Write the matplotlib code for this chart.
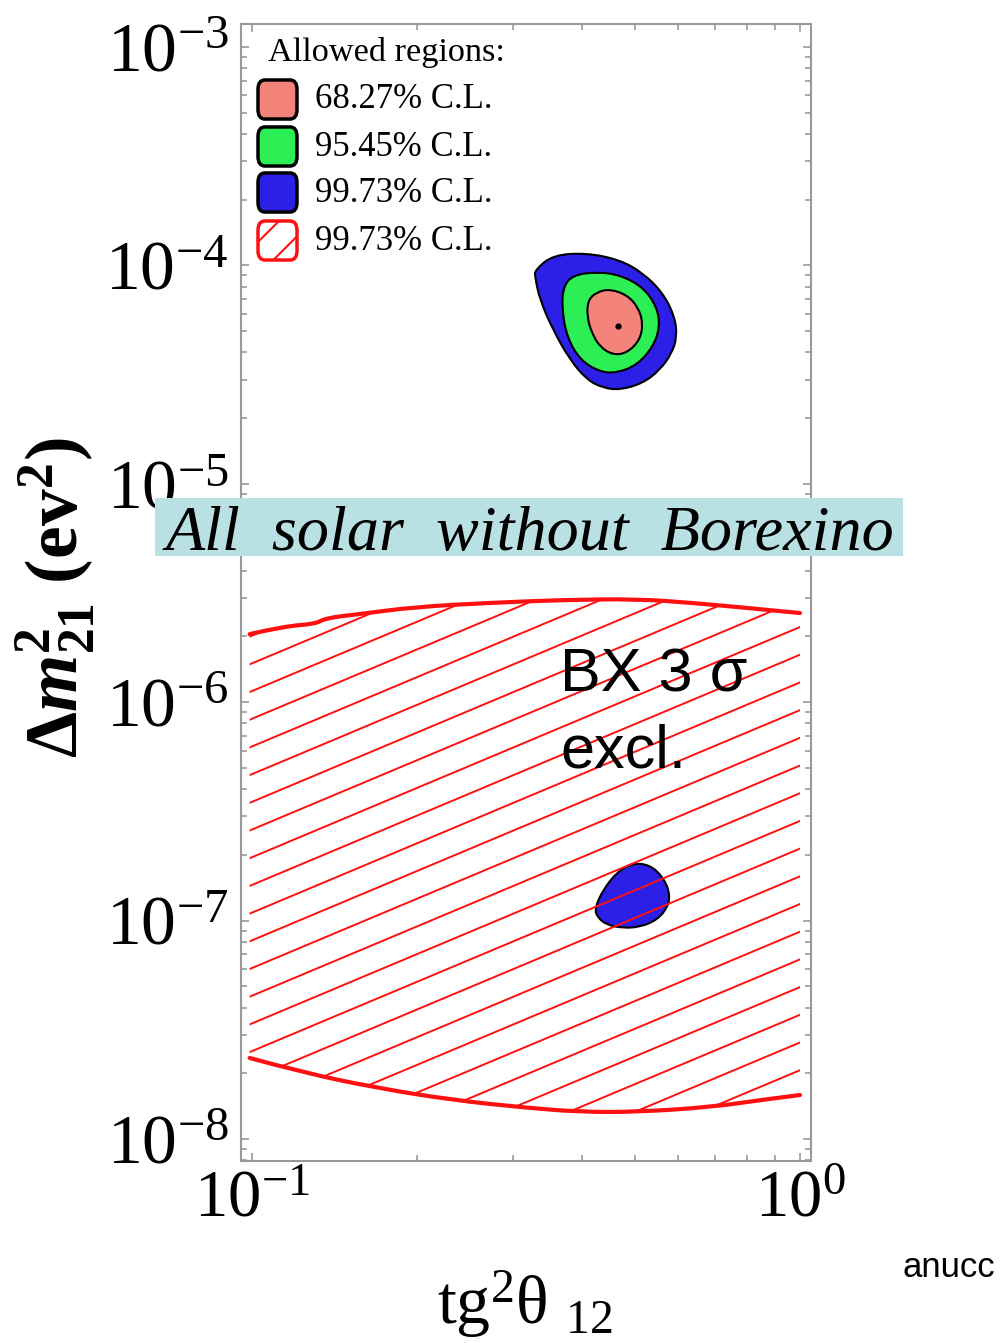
import numpy as np
import matplotlib
matplotlib.use("Agg")
import matplotlib.pyplot as plt
from matplotlib.patches import FancyBboxPatch, Rectangle, PathPatch
from matplotlib.path import Path
from matplotlib.ticker import LogLocator, NullFormatter

plt.rcParams['font.family'] = ['Liberation Serif', 'DejaVu Serif']
plt.rcParams['mathtext.fontset'] = 'custom'
plt.rcParams['mathtext.rm'] = 'Liberation Serif'
plt.rcParams['mathtext.it'] = 'Liberation Serif:italic'
plt.rcParams['mathtext.bf'] = 'Liberation Serif:bold'
plt.rcParams['mathtext.bfit'] = 'Liberation Serif:italic:bold'
plt.rcParams['hatch.color'] = 'red'
plt.rcParams['hatch.linewidth'] = 1.5

# ---------------- data ----------------
# LMA region, 99.73% C.L. (blue)
lma3_x = [0.3284, 0.3543, 0.4088, 0.4694, 0.5170, 0.5623, 0.5913, 0.5962, 0.5839,
          0.5551, 0.5170, 0.4694, 0.4370, 0.4088, 0.3805, 0.3543, 0.3353, 0.3284]
lma3_y = [9.53e-5, 1.116e-4, 1.140e-4, 1.059e-4, 9.23e-5, 7.48e-5, 5.80e-5, 4.70e-5, 3.97e-5,
          3.32e-5, 2.89e-5, 2.69e-5, 2.75e-5, 2.99e-5, 3.69e-5, 5.06e-5, 6.94e-5, 8.85e-5]
# 95.45% C.L. (green)
lma2_x = [0.3694, 0.3854, 0.4263, 0.4694, 0.5170, 0.5483, 0.5551, 0.5392, 0.5043,
          0.4636, 0.4315, 0.3967, 0.3757, 0.3679]
lma2_y = [7.96e-5, 9.04e-5, 9.33e-5, 9.04e-5, 7.96e-5, 6.45e-5, 5.22e-5, 4.23e-5, 3.50e-5,
          3.22e-5, 3.25e-5, 3.69e-5, 4.70e-5, 6.25e-5]
# 68.27% C.L. (pink)
lma1_x = [0.4101, 0.4263, 0.4501, 0.4833, 0.5064, 0.5170, 0.5105, 0.4833, 0.4559,
          0.4315, 0.4171, 0.4088]
lma1_y = [6.94e-5, 7.56e-5, 7.79e-5, 7.32e-5, 6.45e-5, 5.45e-5, 4.55e-5, 3.97e-5, 3.89e-5,
          4.23e-5, 4.90e-5, 5.80e-5]
# best fit point
best_x = [0.4655]
best_y = [5.28e-5]
# LOW region, 99.73% C.L. (blue)
low_x = [0.4224, 0.4370, 0.4636, 0.4958, 0.5324, 0.5623, 0.5790, 0.5741, 0.5483,
         0.5105, 0.4753, 0.4444, 0.4263]
low_y = [1.142e-7, 1.381e-7, 1.669e-7, 1.835e-7, 1.797e-7, 1.584e-7, 1.337e-7, 1.154e-7, 1.006e-7,
         9.35e-8, 9.25e-8, 9.55e-8, 1.038e-7]
# Borexino 3 sigma exclusion region (hatched)
bx_top_x = [0.099, 0.1149, 0.1303, 0.1365, 0.1568, 0.1983, 0.2707, 0.3694, 0.5043, 0.6353, 0.8038, 1.0]
bx_top_y = [2.05e-6, 2.23e-6, 2.28e-6, 2.43e-6, 2.53e-6, 2.73e-6, 2.85e-6, 2.94e-6, 2.97e-6,
            2.85e-6, 2.70e-6, 2.56e-6]
bx_bot_x = [0.099, 0.1244, 0.1698, 0.2317, 0.3162, 0.3985, 0.5043, 0.6881, 0.8670, 1.0]
bx_bot_y = [2.35e-8, 2.01e-8, 1.71e-8, 1.51e-8, 1.39e-8, 1.33e-8, 1.33e-8, 1.40e-8, 1.52e-8, 1.59e-8]

legend_labels = ["68.27% C.L.", "95.45% C.L.", "99.73% C.L.", "99.73% C.L."]
legend_title = "Allowed regions:"
banner_text = "All  solar  without  Borexino"
xticks = [0.1, 1.0]
xticklabels = [r"$10^{-1}$", r"$10^{0}$"]
yticks = [1e-8, 1e-7, 1e-6, 1e-5, 1e-4, 1e-3]
yticklabels = [r"$10^{-8}$", r"$10^{-7}$", r"$10^{-6}$", r"$10^{-5}$", r"$10^{-4}$", r"$10^{-3}$"]

C_PINK = '#f4837c'
C_GREEN = '#2bef55'
C_BLUE = '#2b1fe8'
C_RED = '#ff1010'


def closed_smooth_path(xs, ys):
    """Quadratic B-spline style closed path drawn by matplotlib through the given vertices."""
    p = np.column_stack([xs, ys]).astype(float)
    n = len(p)
    lp = np.log10(p)
    mids = 10 ** ((lp + np.roll(lp, -1, axis=0)) / 2)
    verts = [mids[-1]]
    codes = [Path.MOVETO]
    for i in range(n):
        verts += [p[i], mids[i]]
        codes += [Path.CURVE3, Path.CURVE3]
    verts.append(mids[-1])
    codes.append(Path.CLOSEPOLY)
    return Path(verts, codes)


def open_smooth_verts(xs, ys):
    p = np.column_stack([xs, ys]).astype(float)
    lp = np.log10(p)
    n = len(p)
    verts = [p[0]]
    codes = [Path.MOVETO]
    for i in range(1, n - 1):
        mid = 10 ** ((lp[i] + lp[i + 1]) / 2)
        if i == n - 2:
            verts += [p[i], p[i + 1]]
        else:
            verts += [p[i], mid]
        codes += [Path.CURVE3, Path.CURVE3]
    return verts, codes


# ---------------- figure ----------------
W, H = 1000, 1343
fig = plt.figure(figsize=(W / 100, H / 100), dpi=100)


def fx(px):
    return px / W


def fy(py):
    return 1 - py / H


ax = fig.add_axes([fx(241), fy(1161), fx(811) - fx(241), fy(24) - fy(1161)])
ax.set_xscale('log')
ax.set_yscale('log')
ax.set_xlim(10 ** -1.0201, 10 ** 0.0201)
ax.set_ylim(10 ** -8.1007, 10 ** -2.8947)

# hatched exclusion region
tv, tc = open_smooth_verts(bx_top_x, bx_top_y)
bv, bc = open_smooth_verts(bx_bot_x[::-1], bx_bot_y[::-1])
region_verts = tv + [bv[0]] + bv[1:] + [tv[0]]
region_codes = tc + [Path.LINETO] + bc[1:] + [Path.CLOSEPOLY]
clip_patch = PathPatch(Path(region_verts, region_codes), facecolor='none', edgecolor='none')
ax.add_patch(clip_patch)

# LOW region under the hatch lines
ax.add_patch(PathPatch(closed_smooth_path(low_x, low_y), facecolor=C_BLUE, edgecolor='black',
                       lw=1.5, zorder=2))

# hatch lines (style), slope/spacing in axes fraction
slope = 0.2106
spacing = 0.02436
x0, y0 = 0.0158, 0.3395
xs = np.array([0.0, 1.0])
for k in range(-60, 60):
    yy = y0 + k * spacing + slope * (xs - x0)
    ln, = ax.plot(xs, yy, transform=ax.transAxes, color=C_RED, lw=1.4, zorder=3)
    ln.set_clip_path(clip_patch)

ax.add_patch(PathPatch(Path(tv, tc), facecolor='none', edgecolor=C_RED, lw=3, zorder=4,
                       capstyle='round'))
ax.add_patch(PathPatch(Path(bv, bc), facecolor='none', edgecolor=C_RED, lw=3, zorder=4,
                       capstyle='round'))

# LMA region
ax.add_patch(PathPatch(closed_smooth_path(lma3_x, lma3_y), facecolor=C_BLUE, edgecolor='black',
                       lw=1.5, zorder=5))
ax.add_patch(PathPatch(closed_smooth_path(lma2_x, lma2_y), facecolor=C_GREEN, edgecolor='black',
                       lw=1.5, zorder=6))
ax.add_patch(PathPatch(closed_smooth_path(lma1_x, lma1_y), facecolor=C_PINK, edgecolor='black',
                       lw=1.5, zorder=7))
ax.plot(best_x, best_y, 'o', color='black', ms=3.5, zorder=8)

# axes styling
for s in ax.spines.values():
    s.set_color('#9a9a9a')
    s.set_linewidth(1.5)
ax.xaxis.set_minor_locator(LogLocator(base=10, subs=np.arange(2, 10), numticks=20))
ax.yaxis.set_minor_locator(LogLocator(base=10, subs=np.arange(2, 10), numticks=20))
ax.set_xticks(xticks)
ax.set_xticklabels(xticklabels)
ax.set_yticks(yticks)
ax.set_yticklabels(yticklabels)
ax.xaxis.set_minor_formatter(NullFormatter())
ax.yaxis.set_minor_formatter(NullFormatter())
ax.tick_params(which='both', direction='in', top=True, right=True, color='#9a9a9a', width=1.2)
ax.tick_params(which='major', length=6)
ax.tick_params(which='minor', length=4)
ax.tick_params(axis='y', which='major', labelsize=50, pad=9)
ax.tick_params(axis='x', which='major', labelsize=48, pad=6)

# axis labels
fig.text(fx(55), fy(598), r'$\mathbf{\Delta}\mathbfit{m}^{\mathbf{2}}_{\mathbf{21}}\ \mathbf{(ev^{2})}$',
         rotation=90, ha='center', va='center', fontsize=53)
fig.text(fx(525), fy(1305), r'tg$^{2}$θ $_{12}$', ha='center', va='center', fontsize=49)

# legend (drawn manually)
fig.text(fx(268), fy(53), legend_title, ha='left', va='center', fontsize=24.7)
sq_tops = [81, 128, 174, 222]
sq_fc = [C_PINK, C_GREEN, C_BLUE, 'white']
sq_ec = ['black', 'black', 'black', C_RED]
sq_hatch = [None, None, None, '/']
for top, fc, ec, hz, lab in zip(sq_tops, sq_fc, sq_ec, sq_hatch, legend_labels):
    b = FancyBboxPatch((fx(261), fy(top + 34)), fx(33), fy(top + 3) - fy(top + 34),
                       boxstyle="round,pad=0.003,rounding_size=0.007",
                       transform=fig.transFigure, facecolor=fc, edgecolor=ec,
                       lw=2.5, hatch=hz, zorder=5)
    fig.add_artist(b)
    fig.text(fx(315), fy(top + 19), lab, ha='left', va='center', fontsize=25, zorder=6)

# banner
banner = Rectangle((fx(155), fy(556)), fx(903) - fx(155), fy(498) - fy(556),
                   transform=fig.transFigure, facecolor='#b9e0e3', edgecolor='none', zorder=10)
fig.add_artist(banner)
fig.text(fx(530), fy(550), banner_text, ha='center', va='baseline', fontsize=46.2,
         style='italic', zorder=11)

# BX annotation
fig.text(fx(560), fy(692), 'BX 3 σ', ha='left', va='baseline', fontsize=44,
         family=['Liberation Sans', 'DejaVu Sans'], zorder=11)
fig.text(fx(560), fy(768), 'excl.', ha='left', va='baseline', fontsize=44,
         family=['Liberation Sans', 'DejaVu Sans'], zorder=11)

# cut-off footer text
fig.text(fx(903), fy(1277), 'anucc', ha='left', va='baseline', fontsize=25,
         family=['Liberation Sans', 'DejaVu Sans'])

fig.savefig('out.png', dpi=100)
